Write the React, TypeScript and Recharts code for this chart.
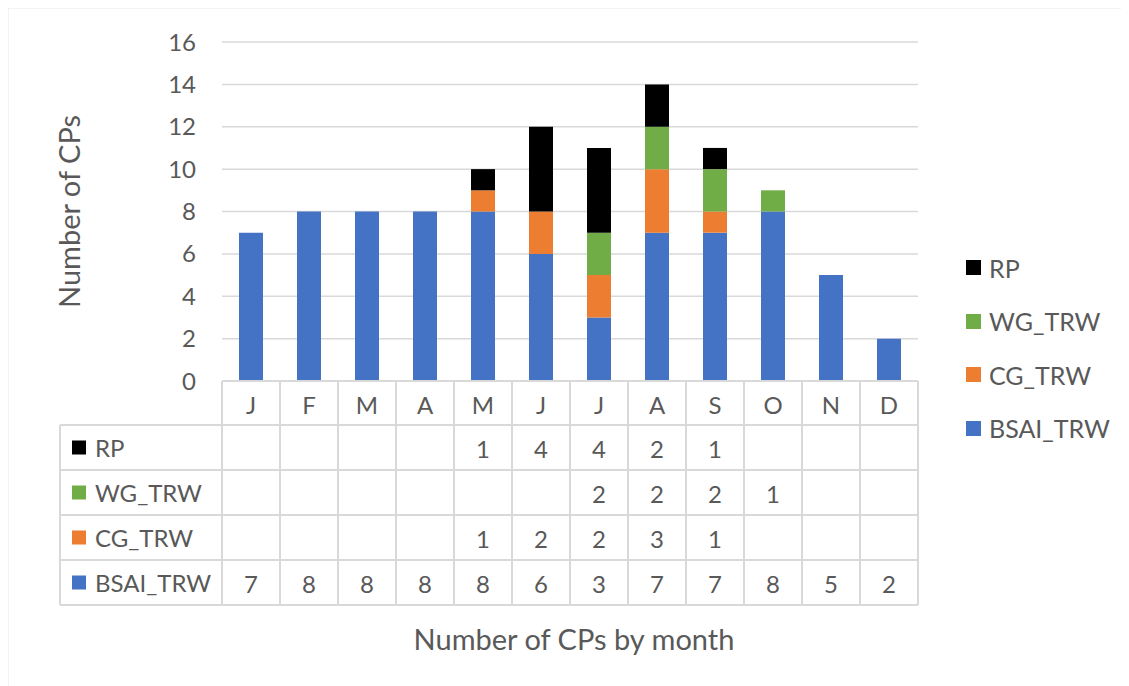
import { Bar, BarChart, CartesianGrid, Label, XAxis, YAxis } from "recharts";

const MONTHS = ["J", "F", "M", "A", "M", "J", "J", "A", "S", "O", "N", "D"];
const BSAI_TRW = [7, 8, 8, 8, 8, 6, 3, 7, 7, 8, 5, 2];
const CG_TRW = [null, null, null, null, 1, 2, 2, 3, 1, null, null, null];
const WG_TRW = [null, null, null, null, null, null, 2, 2, 2, 1, null, null];
const RP = [null, null, null, null, 1, 4, 4, 2, 1, null, null, null];
const Y_TICKS = [0, 2, 4, 6, 8, 10, 12, 14, 16];

// stack order bottom -> top
const SERIES = [
  { key: "BSAI_TRW", values: BSAI_TRW, color: "#4472C4" },
  { key: "CG_TRW", values: CG_TRW, color: "#ED7D31" },
  { key: "WG_TRW", values: WG_TRW, color: "#70AD47" },
  { key: "RP", values: RP, color: "#000000" },
];
const TABLE_ROWS = [...SERIES].reverse();

const data = MONTHS.map((m, i) => {
  const row: Record<string, any> = { month: m, idx: i };
  SERIES.forEach((s) => (row[s.key] = s.values[i]));
  return row;
});

const W = 1129;
const H = 686;
const PLOT_LEFT = 222;
const PLOT_RIGHT = 918;
const PLOT_TOP = 42;
const PLOT_BOTTOM = 381;
const TABLE_LEFT = 60;
const HEAD_H = 44;
const ROW_H = 45;
const TABLE_H = HEAD_H + ROW_H * TABLE_ROWS.length;
const COL_W = (PLOT_RIGHT - PLOT_LEFT) / MONTHS.length;
const FONT = "Lato, 'Open Sans', sans-serif";
const TEXT = "#595959";
const LINE = "#d9d9d9";

function TableTick(props: any) {
  const { x, y, payload } = props;
  const i = payload.index;
  const left = x - COL_W / 2;
  const right = x + COL_W / 2;
  const bottom = y + TABLE_H;
  return (
    <g fontFamily={FONT} fontSize={24} fill={TEXT}>
      {i === 0 && (
        <g>
          {/* chart frame (left and top edges) */}
          <line x1={7} x2={7} y1={6} y2={H} stroke="#d0d0d0" strokeWidth={2.5} />
          <line x1={6} x2={W} y1={7} y2={7} stroke="#d0d0d0" strokeWidth={2.5} />
          <line x1={PLOT_LEFT} x2={PLOT_RIGHT} y1={y} y2={y} stroke={LINE} strokeWidth={2} />
          {TABLE_ROWS.map((r, k) => (
            <line
              key={"h" + k}
              x1={TABLE_LEFT}
              x2={PLOT_RIGHT}
              y1={y + HEAD_H + ROW_H * k}
              y2={y + HEAD_H + ROW_H * k}
              stroke={LINE}
              strokeWidth={2}
            />
          ))}
          <line x1={TABLE_LEFT} x2={PLOT_RIGHT} y1={bottom} y2={bottom} stroke={LINE} strokeWidth={2} />
          <line x1={TABLE_LEFT} x2={TABLE_LEFT} y1={y + HEAD_H} y2={bottom} stroke={LINE} strokeWidth={2} />
          <line x1={left} x2={left} y1={y} y2={bottom} stroke={LINE} strokeWidth={2} />
          {TABLE_ROWS.map((r, k) => {
            const cy = y + HEAD_H + ROW_H * k + ROW_H / 2;
            return (
              <g key={"rh" + k}>
                <rect x={72} y={cy - 7} width={14} height={14} fill={r.color} />
                <text x={95} y={cy} dominantBaseline="central" fill={TEXT}>
                  {r.key}
                </text>
              </g>
            );
          })}
        </g>
      )}
      <line x1={right} x2={right} y1={y} y2={bottom} stroke={LINE} strokeWidth={2} />
      <text x={x} y={y + HEAD_H / 2 + 1} textAnchor="middle" dominantBaseline="central" fill={TEXT}>
        {payload.value}
      </text>
      {TABLE_ROWS.map((r, k) => {
        const v = r.values[i];
        if (v == null) return null;
        return (
          <text
            key={"c" + k}
            x={x}
            y={y + HEAD_H + ROW_H * k + ROW_H / 2 + 1}
            textAnchor="middle"
            dominantBaseline="central"
            fill={TEXT}
          >
            {v}
          </text>
        );
      })}
    </g>
  );
}

function ChartLegend() {
  return (
    <div style={{ position: "absolute", left: 966, top: 241, fontFamily: FONT, fontSize: 25, color: TEXT }}>
      {TABLE_ROWS.map((r) => (
        <div key={r.key} style={{ display: "flex", alignItems: "center", height: 53.5 }}>
          <span style={{ width: 15, height: 15, background: r.color, marginRight: 8, display: "inline-block" }} />
          <span>{r.key}</span>
        </div>
      ))}
    </div>
  );
}

export default function App() {
  return (
    <div style={{ position: "relative", width: W, height: H, marginLeft: -8, marginTop: -8, background: "#fff" }}>
      <div style={{ position: "absolute", left: 0, top: 0 }}>
        <BarChart
          width={W}
          height={H}
          data={data}
          barSize={24}
          style={{ overflow: "visible" }}
          margin={{ top: PLOT_TOP, right: W - PLOT_RIGHT, bottom: H - PLOT_BOTTOM - TABLE_H, left: PLOT_LEFT - 60 }}
        >
          <CartesianGrid vertical={false} stroke={LINE} strokeWidth={1.5} />
          <XAxis
            dataKey="month"
            interval={0}
            height={TABLE_H}
            tickSize={0}
            tickMargin={0}
            axisLine={false}
            tickLine={false}
            tick={<TableTick />}
          >
            <Label
              content={(p: any) => {
                const vb = p.viewBox;
                return (
                  <text
                    x={vb.x + vb.width / 2 + 4}
                    y={vb.y + vb.height + 33}
                    textAnchor="middle"
                    dominantBaseline="central"
                    fontFamily={FONT}
                    fontSize={29}
                    fill={TEXT}
                  >
                    Number of CPs by month
                  </text>
                );
              }}
            />
          </XAxis>
          <YAxis
            width={60}
            domain={[0, 16]}
            ticks={Y_TICKS}
            interval={0}
            axisLine={false}
            tickLine={false}
            tickSize={0}
            tickMargin={26}
            tick={{ fill: TEXT, fontSize: 24, fontFamily: FONT }}
          >
            <Label
              content={(p: any) => {
                const vb = p.viewBox;
                const cx = 68;
                const cy = vb.y + vb.height / 2;
                return (
                  <text
                    x={cx}
                    y={cy}
                    transform={`rotate(-90 ${cx} ${cy})`}
                    textAnchor="middle"
                    dominantBaseline="central"
                    fontFamily={FONT}
                    fontSize={29}
                    fill={TEXT}
                  >
                    Number of CPs
                  </text>
                );
              }}
            />
          </YAxis>
          {SERIES.map((s) => (
            <Bar key={s.key} dataKey={s.key} stackId="a" fill={s.color} isAnimationActive={false} />
          ))}
        </BarChart>
      </div>
      <ChartLegend />
    </div>
  );
}
